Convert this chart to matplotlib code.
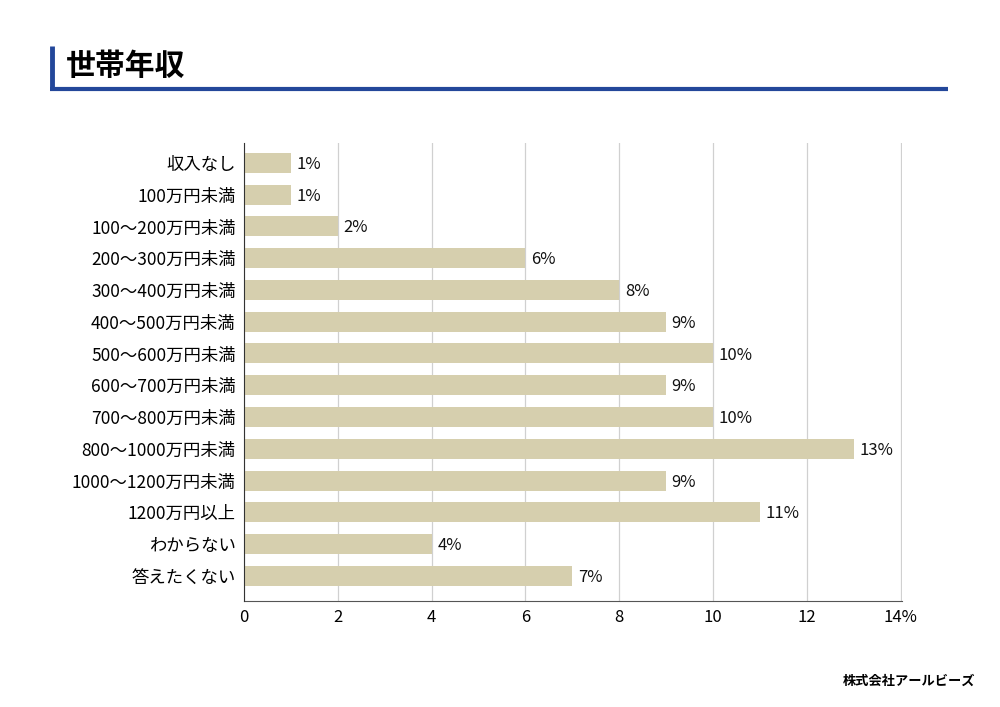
import matplotlib
matplotlib.use('Agg')
import matplotlib.pyplot as plt
from matplotlib.lines import Line2D

plt.rcParams['font.family'] = ['Noto Sans CJK JP', 'DejaVu Sans']

categories = ['収入なし', '100万円未満', '100～200万円未満', '200～300万円未満',
              '300～400万円未満', '400～500万円未満', '500～600万円未満',
              '600～700万円未満', '700～800万円未満', '800～1000万円未満',
              '1000～1200万円未満', '1200万円以上', 'わからない', '答えたくない']
values = [1, 1, 2, 6, 8, 9, 10, 9, 10, 13, 9, 11, 4, 7]
xticks = [0, 2, 4, 6, 8, 10, 12, 14]
xtick_labels = ['0', '2', '4', '6', '8', '10', '12', '14%']

fig = plt.figure(figsize=(10, 7.07), dpi=100)
ax = fig.add_axes([0.244, 0.150, 0.658, 0.648])

ypos = list(range(len(categories)))
ax.barh(ypos, values, height=0.63, color='#d6cfae', zorder=3)
for y, v in zip(ypos, values):
    ax.text(v + 0.12, y + 0.05, f'{v}%', va='center', ha='left', fontsize=12, color='#111111')

ax.set_xlim(0, 14.03)
ax.set_ylim(13.79, -0.63)
ax.set_yticks(ypos)
ax.set_yticklabels(categories, fontsize=12.5)
ax.set_xticks(xticks)
ax.set_xticklabels(xtick_labels, fontsize=12)
ax.tick_params(axis='both', length=0, pad=6)
ax.xaxis.grid(True, color='#d0d0d0', linewidth=0.9, zorder=0)
for s in ['top', 'right']:
    ax.spines[s].set_visible(False)
ax.spines['left'].set_color('#333333')
ax.spines['bottom'].set_color('#555555')
ax.spines['left'].set_zorder(4)

# header
fig.add_artist(Line2D([0.0515, 0.0515], [1 - 46 / 707, 1 - 90 / 707], color='#23479a',
                      linewidth=3.5, solid_capstyle='butt'))
fig.add_artist(Line2D([0.050, 0.948], [1 - 88.5 / 707, 1 - 88.5 / 707], color='#23479a',
                      linewidth=3, solid_capstyle='butt'))
fig.text(0.066, 1 - 66 / 707, '世帯年収', fontsize=21.5, fontweight='bold', va='center', ha='left')

fig.text(0.975, 1 - 681 / 707, '株式会社アールビーズ', fontsize=9.5, fontweight='bold',
         style='italic', va='center', ha='right')

fig.savefig('out.png', dpi=100)
